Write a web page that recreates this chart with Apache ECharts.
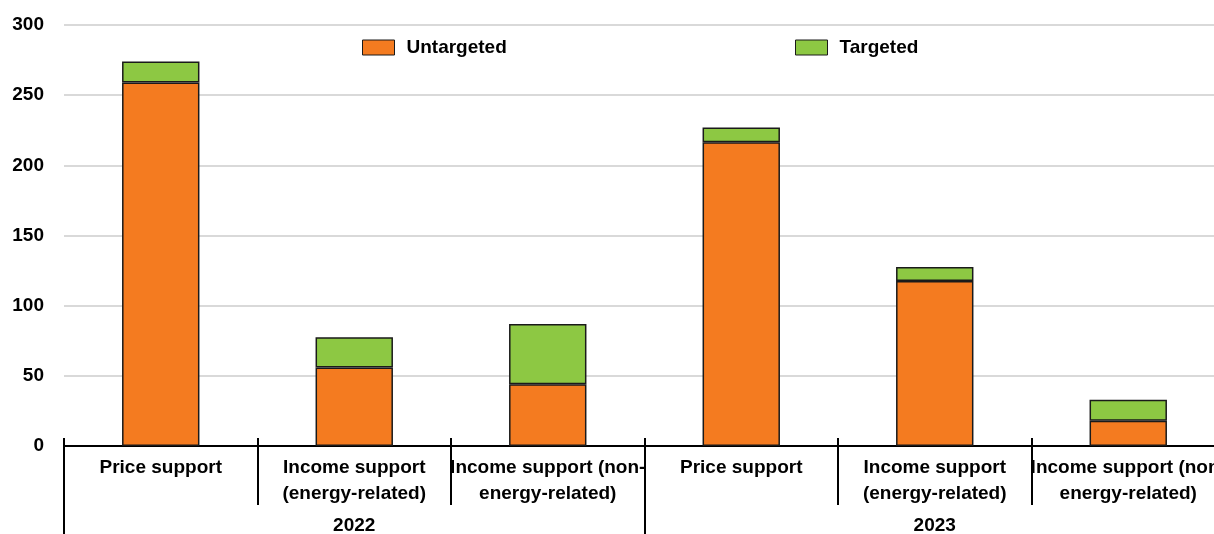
<!DOCTYPE html>
<html>
<head>
<meta charset="utf-8">
<script src="https://cdn.jsdelivr.net/npm/echarts@6/dist/echarts.min.js"></script>
<style>
  html, body { margin: 0; padding: 0; background: #fff; }
  #chart { width: 1214px; height: 534px; }
</style>
</head>
<body>
<div id="chart"></div>
<script>
const categories = ['Price support', 'Income support\n(energy-related)', 'Income support (non-\nenergy-related)',
                    'Price support', 'Income support\n(energy-related)', 'Income support (non-\nenergy-related)'];
const years = ['2022', '2023'];
const untargeted = [259, 56, 44, 216.5, 117.5, 18];
const targeted = [15, 21.5, 43, 10.5, 10, 15];
const yTicks = { min: 0, max: 300, interval: 50 };

const font = "'Liberation Sans Narrow', 'Arial Narrow', 'Liberation Sans', Arial, sans-serif";
const orange = '#F47B20';
const green = '#8DC843';

const chart = echarts.init(document.getElementById('chart'));

const legendText = { fontFamily: font, fontSize: 19, fontWeight: 'bold', color: '#000', padding: [0, 0, 0, 7] };

const option = {
  backgroundColor: '#fff',
  animation: false,
  textStyle: { fontFamily: font },
  grid: { left: 64, right: -11, top: 25, bottom: 88, outerBoundsMode: 'none', containLabel: false },
  legend: [
    {
      data: ['Untargeted'], left: 357, top: 33, icon: 'rect',
      itemWidth: 32, itemHeight: 15, itemGap: 10,
      itemStyle: { borderColor: '#1a1a1a', borderWidth: 1 },
      textStyle: legendText
    },
    {
      data: ['Targeted'], left: 790, top: 33, icon: 'rect',
      itemWidth: 32, itemHeight: 15, itemGap: 10,
      itemStyle: { borderColor: '#1a1a1a', borderWidth: 1 },
      textStyle: legendText
    }
  ],
  xAxis: [
    {
      type: 'category',
      data: categories,
      position: 'bottom',
      axisLine: { show: true, lineStyle: { color: '#000', width: 2 } },
      axisTick: { show: true, interval: 0, length: 59, lineStyle: { color: '#000', width: 2 } },
      axisLabel: {
        interval: 0, margin: 9, color: '#000', hideOverlap: false,
        fontFamily: font, fontSize: 19, fontWeight: 'bold', lineHeight: 26
      }
    },
    {
      type: 'category',
      data: years,
      position: 'bottom',
      axisLine: { show: false },
      axisTick: { show: true, interval: 0, length: 88, lineStyle: { color: '#000', width: 2 } },
      axisLabel: {
        interval: 0, margin: 70, color: '#000',
        fontFamily: font, fontSize: 19, fontWeight: 'bold'
      }
    },
    {
      type: 'category',
      data: categories,
      position: 'bottom',
      axisLine: { show: false },
      axisTick: { show: true, inside: true, interval: 0, length: 8, lineStyle: { color: '#000', width: 2 } },
      axisLabel: { show: false }
    }
  ],
  yAxis: {
    type: 'value',
    min: yTicks.min, max: yTicks.max, interval: yTicks.interval,
    axisLine: { show: false },
    axisTick: { show: false },
    splitLine: { lineStyle: { color: '#d9d9d9', width: 2 } },
    axisLabel: { margin: 20, color: '#000', fontFamily: font, fontSize: 19, fontWeight: 'bold' }
  },
  series: [
    {
      name: 'Untargeted', type: 'bar', stack: 'total', xAxisIndex: 0,
      barWidth: '40%', data: untargeted,
      itemStyle: { color: orange, borderColor: '#1a1a1a', borderWidth: 1.5 }
    },
    {
      name: 'Targeted', type: 'bar', stack: 'total', xAxisIndex: 0,
      barWidth: '40%', data: targeted,
      itemStyle: { color: green, borderColor: '#1a1a1a', borderWidth: 1.5 }
    }
  ]
};

chart.setOption(option);
</script>
</body>
</html>
